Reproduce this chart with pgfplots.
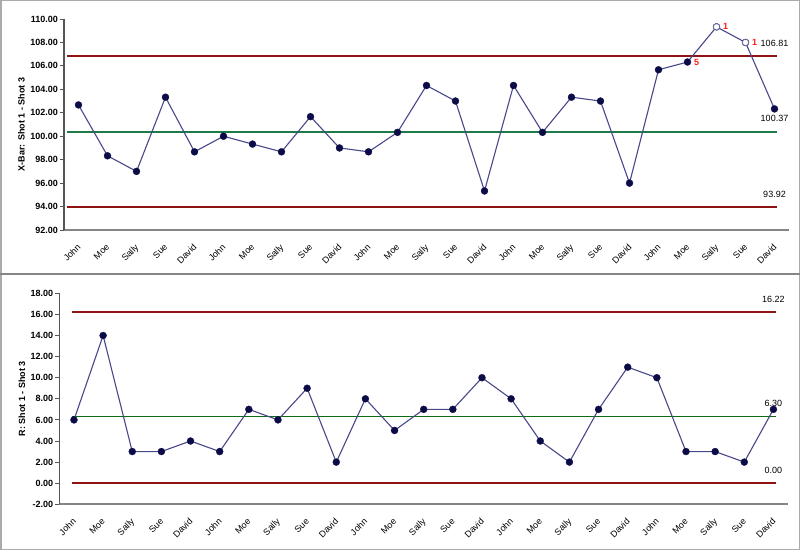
\documentclass[border=0pt]{standalone}
\usepackage{fontspec}
\setmainfont{Liberation Sans}
\usepackage{pgfplots}
\usepackage{pgfplotstable}
\pgfplotsset{compat=1.18}

\definecolor{ptline}{HTML}{48488A}
\definecolor{ptfill}{HTML}{0B0B48}
\definecolor{limred}{HTML}{8E1414}
\definecolor{cgreen}{HTML}{1E7B47}
\definecolor{cgreen2}{HTML}{0B6A12}
\definecolor{axgray}{HTML}{858585}
\definecolor{axdark}{HTML}{555555}
\definecolor{flagred}{HTML}{FF1A1A}

% subgroup index, x-bar and range (3 shots per subgroup)
\pgfplotstableread{
i xbar r
0 102.67 6
1 98.33 14
2 97.00 3
3 103.33 3
4 98.67 4
5 100.00 3
6 99.33 7
7 98.67 6
8 101.67 9
9 99.00 2
10 98.67 8
11 100.33 5
12 104.33 7
13 103.00 7
14 95.33 10
15 104.33 8
16 100.33 4
17 103.33 2
18 103.00 7
19 96.00 11
20 105.67 10
21 106.33 3
22 109.33 3
23 108.00 2
24 102.33 7
}\shots

\newcommand{\lblfont}{\fontsize{9}{10}\selectfont}

\pgfplotsset{spc/.style={
  scale only axis, height=211pt,
  xmin=-0.5, xmax=24.5,
  axis x line=bottom, axis y line=left,
  x axis line style={axgray, line width=2pt, -},
  y axis line style={axdark, line width=1.1pt, -},
  xtick={0,...,24},
  xticklabels={John,Moe,Sally,Sue,David,John,Moe,Sally,Sue,David,John,Moe,Sally,Sue,David,John,Moe,Sally,Sue,David,John,Moe,Sally,Sue,David},
  xtick style={draw=none},
  ytick style={axdark, line width=0.9pt},
  tick align=outside, major tick length=4pt,
  x tick label style={yshift=-7pt, xshift=-2pt, rotate=45, anchor=north east, font=\lblfont, inner sep=1.5pt},
  y tick label style={font=\lblfont\bfseries, inner sep=2pt},
  yticklabel style={/pgf/number format/.cd, fixed, fixed zerofill, precision=2, assume math mode=true},
  ylabel style={font=\lblfont\bfseries},
  clip=false,
}}

\begin{document}
\begin{tikzpicture}
\fill[white] (0pt,0pt) rectangle (800pt,550pt);
\draw[axgray!70, line width=1.5pt] (0.75pt,0.75pt) rectangle (799.25pt,549.25pt);
\draw[axgray, line width=2.5pt] (0pt,276pt) -- (800pt,276pt);

% X-bar chart
\begin{axis}[spc, at={(64pt,320pt)}, anchor=south west, width=725pt,
  ymin=92, ymax=110, ytick={92,94,...,110},
  ylabel={X-Bar: Shot 1 - Shot 3}]
\addplot[limred, line width=2pt] coordinates {(-0.4,106.81) (24.1,106.81)};
\addplot[limred, line width=2pt] coordinates {(-0.4,93.92) (24.1,93.92)};
\addplot[cgreen, line width=2.6pt] coordinates {(-0.4,100.37) (24.1,100.37)};
\addplot[ptline, line width=1.1pt, mark=*, mark size=3.5pt,
  mark options={draw=ptfill, fill=ptfill, line width=0.3pt}] table[x=i, y=xbar] {\shots};
\addplot[only marks, mark=*, mark size=3.2pt, restrict x to domain=21.5:23.5,
  mark options={draw=ptline!80, fill=white, line width=0.8pt}] table[x=i, y=xbar] {\shots};
\node[anchor=base, yshift=10pt, font=\lblfont] at (axis cs:24,106.81) {106.81};
\node[anchor=base, yshift=10pt, font=\lblfont] at (axis cs:24,100.37) {100.37};
\node[anchor=base, yshift=10pt, font=\lblfont] at (axis cs:24,93.92) {93.92};
\node[anchor=west, xshift=3pt, font=\lblfont\bfseries, text=flagred] at (axis cs:22,109.33) {1};
\node[anchor=west, xshift=3pt, font=\lblfont\bfseries, text=flagred] at (axis cs:23,108.00) {1};
\node[anchor=west, xshift=3pt, font=\lblfont\bfseries, text=flagred] at (axis cs:21,106.33) {5};
\end{axis}

% Range chart
\begin{axis}[spc, at={(59.4pt,45.7pt)}, anchor=south west, width=728.6pt,
  ymin=-2, ymax=18, ytick={-2,0,...,18},
  ylabel={R: Shot 1 - Shot 3}]
\addplot[limred, line width=1.6pt] coordinates {(-0.08,16.22) (24.1,16.22)};
\addplot[limred, line width=1.6pt] coordinates {(-0.08,0) (24.1,0)};
\addplot[cgreen2, line width=1.3pt] coordinates {(-0.08,6.30) (24.1,6.30)};
\addplot[ptline, line width=1.1pt, mark=*, mark size=3.5pt,
  mark options={draw=ptfill, fill=ptfill, line width=0.3pt}] table[x=i, y=r] {\shots};
\node[anchor=base, yshift=10pt, font=\lblfont] at (axis cs:24,16.22) {16.22};
\node[anchor=base, yshift=10pt, font=\lblfont] at (axis cs:24,6.30) {6.30};
\node[anchor=base, yshift=10pt, font=\lblfont] at (axis cs:24,0) {0.00};
\end{axis}

\pgfresetboundingbox
\useasboundingbox (0pt,0pt) rectangle (800pt,550pt);
\end{tikzpicture}
\end{document}
